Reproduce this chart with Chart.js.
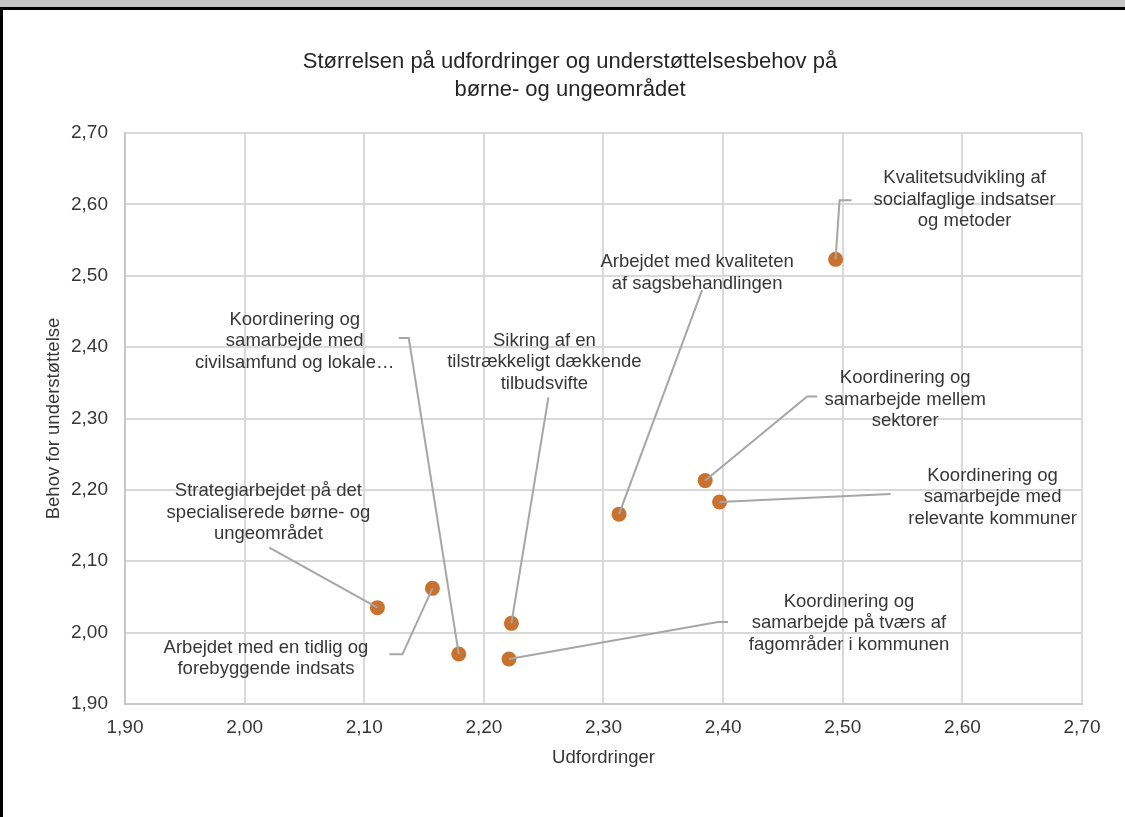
<!DOCTYPE html>
<html lang="da">
<head>
<meta charset="utf-8">
<title>Størrelsen på udfordringer og understøttelsesbehov</title>
<script src="https://cdn.jsdelivr.net/npm/chart.js@4.4.1/dist/chart.umd.min.js"></script>
<style>
  html, body { margin: 0; padding: 0; background: #fff; }
  #wrap { position: relative; width: 1125px; height: 817px; overflow: hidden; }
  #graf { position: absolute; left: 0; top: 0; }
  .kant { position: absolute; }
</style>
</head>
<body>
<div id="wrap">
  <canvas id="graf" width="1125" height="817"></canvas>
  <div class="kant" style="left:0;top:0;width:1125px;height:7px;background:#c6c6c6"></div>
  <div class="kant" style="left:0;top:7px;width:1125px;height:3px;background:#000"></div>
  <div class="kant" style="left:0;top:7px;width:3px;height:810px;background:#000"></div>
</div>
<script>
const titel = ['Størrelsen på udfordringer og understøttelsesbehov på', 'børne- og ungeområdet'];

const omraader = [
  ['Kvalitetsudvikling af', 'socialfaglige indsatser', 'og metoder'],
  ['Arbejdet med kvaliteten', 'af sagsbehandlingen'],
  ['Koordinering og', 'samarbejde mellem', 'sektorer'],
  ['Koordinering og', 'samarbejde med', 'relevante kommuner'],
  ['Koordinering og', 'samarbejde på tværs af', 'fagområder i kommunen'],
  ['Sikring af en', 'tilstrækkeligt dækkende', 'tilbudsvifte'],
  ['Koordinering og', 'samarbejde med', 'civilsamfund og lokale…'],
  ['Arbejdet med en tidlig og', 'forebyggende indsats'],
  ['Strategiarbejdet på det', 'specialiserede børne- og', 'ungeområdet']
];

const udfordringer = [2.494, 2.313, 2.385, 2.397, 2.221, 2.223, 2.179, 2.157, 2.111];
const behov        = [2.523, 2.166, 2.213, 2.183, 1.963, 2.013, 1.970, 2.062, 2.035];

const aksetal = ['1,90', '2,00', '2,10', '2,20', '2,30', '2,40', '2,50', '2,60', '2,70'];

// etiketternes placering i pixels ud fra punktet: tekstens midte og forbindelsesstregens knæk
const placering = [
  { tekst: [129, -59.5], streg: [[4, -59], [16, -59]] },
  { tekst: [78, -241],   streg: [[83, -224]] },
  { tekst: [200, -81],   streg: [[102, -84], [112, -84]] },
  { tekst: [273, -5],    streg: [[171, -8]] },
  { tekst: [340, -36],   streg: [[209, -37], [219, -37]] },
  { tekst: [33, -261],   streg: [[37, -226]] },
  { tekst: [-164, -313], streg: [[-50, -316], [-60, -316]] },
  { tekst: [-166.5, 70], streg: [[-30, 66], [-43, 66]] },
  { tekst: [-109, -95],  streg: [[-108, -60]] }
];

const skrift = '"Liberation Sans", Arial, sans-serif';
const tekstfarve = '#363636';

const overskrift = {
  id: 'overskrift',
  afterDraw(chart) {
    const ctx = chart.ctx;
    ctx.save();
    ctx.font = '22px ' + skrift;
    ctx.fillStyle = '#262626';
    ctx.textAlign = 'center';
    ctx.textBaseline = 'middle';
    titel.forEach((linje, i) => ctx.fillText(linje, 570, 62 + i * 27.5));
    ctx.restore();
  }
};

const etiketter = {
  id: 'etiketter',
  afterDatasetsDraw(chart) {
    const ctx = chart.ctx;
    const punkter = chart.getDatasetMeta(0).data;
    const lh = 21.5;
    ctx.save();
    punkter.forEach((pt, i) => {
      const lay = placering[i];
      ctx.beginPath();
      ctx.moveTo(pt.x, pt.y);
      lay.streg.forEach(([dx, dy]) => ctx.lineTo(pt.x + dx, pt.y + dy));
      ctx.strokeStyle = '#a6a6a6';
      ctx.lineWidth = 2;
      ctx.stroke();

      const linjer = omraader[i];
      const cx = pt.x + lay.tekst[0];
      const y0 = pt.y + lay.tekst[1] - (linjer.length - 1) * lh / 2;
      ctx.font = '18.5px ' + skrift;
      ctx.fillStyle = tekstfarve;
      ctx.textAlign = 'center';
      ctx.textBaseline = 'middle';
      linjer.forEach((l, k) => ctx.fillText(l, cx, y0 + k * lh));
    });
    ctx.restore();
  }
};

const gitter = { color: '#d9d9d9', lineWidth: 2, drawTicks: false };
const kant = { display: true, color: '#c8c8c8', width: 2 };

new Chart(document.getElementById('graf'), {
  type: 'scatter',
  data: {
    datasets: [{
      label: 'Områder',
      data: udfordringer.map((x, i) => ({ x: x, y: behov[i] })),
      backgroundColor: '#c9712e',
      borderColor: '#c9712e',
      borderWidth: 0,
      pointRadius: 7.5
    }]
  },
  options: {
    responsive: false,
    animation: false,
    layout: { padding: { top: 133, right: 43, bottom: 0, left: 0 } },
    plugins: {
      legend: { display: false },
      tooltip: { enabled: false },
      title: { display: false }
    },
    scales: {
      x: {
        type: 'linear',
        min: 1.9,
        max: 2.7,
        grid: gitter,
        border: kant,
        ticks: {
          stepSize: 0.1,
          padding: 12,
          color: tekstfarve,
          font: { family: skrift, size: 19 },
          callback: (v, i) => aksetal[i]
        },
        title: {
          display: true,
          text: 'Udfordringer',
          color: tekstfarve,
          font: { family: skrift, size: 18.5 },
          padding: { top: 0, bottom: 48 }
        },
        afterFit(scale) { scale.height = 113; }
      },
      y: {
        type: 'linear',
        min: 1.9,
        max: 2.7,
        grid: gitter,
        border: kant,
        ticks: {
          stepSize: 0.1,
          padding: 17,
          color: tekstfarve,
          font: { family: skrift, size: 19 },
          callback: (v, i) => aksetal[i]
        },
        title: {
          display: true,
          text: 'Behov for understøttelse',
          color: tekstfarve,
          font: { family: skrift, size: 18.5 },
          padding: { top: 43, bottom: 0 }
        },
        afterFit(scale) { scale.width = 125; }
      }
    }
  },
  plugins: [overskrift, etiketter]
});
</script>
</body>
</html>
